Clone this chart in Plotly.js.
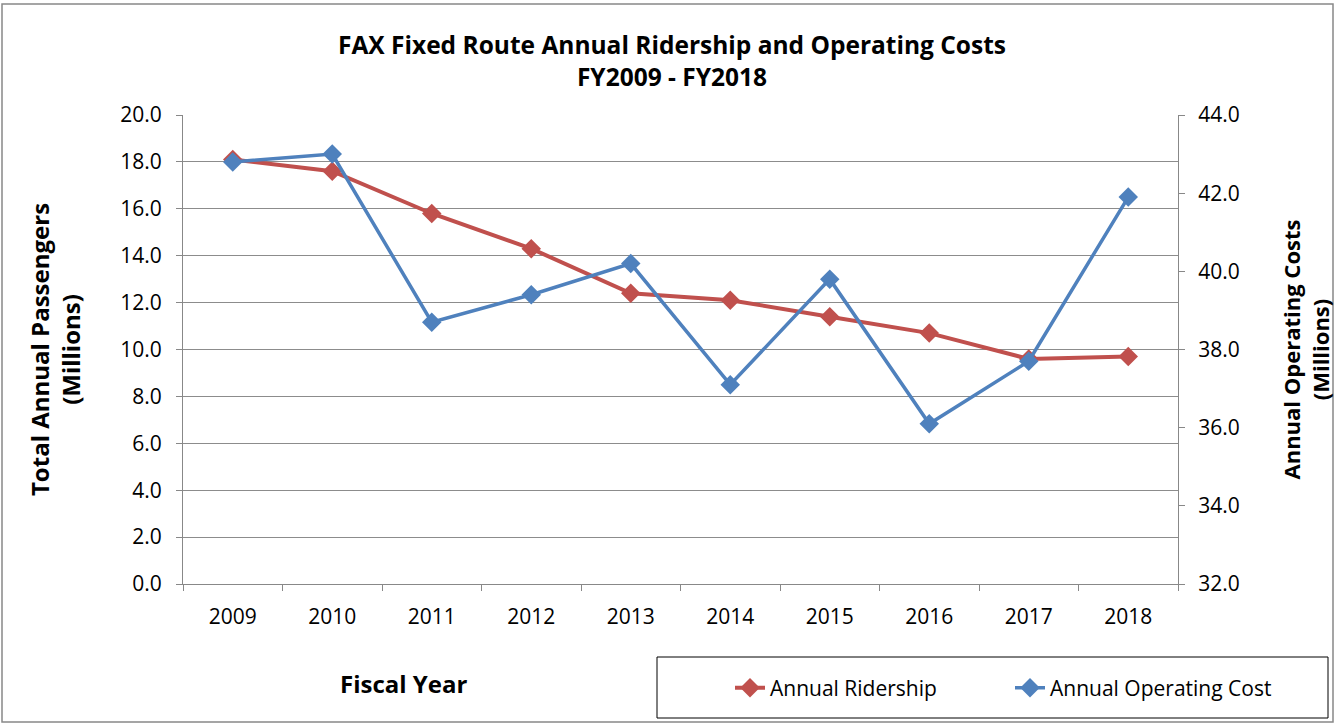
<!DOCTYPE html>
<html>
<head>
<meta charset="utf-8">
<script src="https://cdn.plot.ly/plotly-3.0.1.min.js"></script>
<style>
html,body{margin:0;padding:0;background:#fff;}
#chart{width:1335px;height:725px;}
</style>
</head>
<body>
<div id="chart"></div>
<script>
const years = ['2009','2010','2011','2012','2013','2014','2015','2016','2017','2018'];
const ridership = [18.1, 17.6, 15.8, 14.3, 12.4, 12.1, 11.4, 10.7, 9.6, 9.7];
const operatingCost = [42.8, 43.0, 38.7, 39.4, 40.2, 37.1, 39.8, 36.1, 37.7, 41.9];

const FONT = 'Open Sans, Noto Sans, sans-serif';
const W = 1335, H = 725;
const L = 183, R = 1178, T = 115, B = 584;
const px2x = p => (p - L) / (R - L);
const px2y = p => (B - p) / (B - T);

const traces = [
  {
    x: years, y: ridership, name: 'Annual Ridership', type: 'scatter', mode: 'lines+markers',
    line: {color: '#C0504D', width: 4},
    marker: {symbol: 'diamond', size: 15, color: '#C0504D'},
    yaxis: 'y'
  },
  {
    x: years, y: operatingCost, name: 'Annual Operating Cost', type: 'scatter', mode: 'lines+markers',
    line: {color: '#4F81BD', width: 3.5},
    marker: {symbol: 'diamond', size: 15, color: '#4F81BD'},
    yaxis: 'y2'
  }
];

const layout = {
  width: W, height: H,
  margin: {l: L, r: W - R, t: T, b: H - B},
  paper_bgcolor: '#fff', plot_bgcolor: '#fff',
  font: {family: FONT, color: '#000', size: 21},
  title: {
    text: '<b>FAX Fixed Route Annual Ridership and Operating Costs</b><br><b>FY2009 - FY2018</b>',
    font: {family: FONT, size: 24.5, color: '#000'},
    x: 672 / W, xanchor: 'center', xref: 'container',
    y: 1 - 54 / H, yanchor: 'middle', yref: 'container'
  },
  showlegend: true,
  legend: {
    orientation: 'h',
    xref: 'container', yref: 'container',
    x: 730 / W, xanchor: 'left',
    y: 1 - 688 / H, yanchor: 'middle',
    font: {family: FONT, size: 21, color: '#000'},
    bgcolor: 'rgba(0,0,0,0)',
    entrywidth: 235, entrywidthmode: 'pixels',
    traceorder: 'normal'
  },
  xaxis: {
    type: 'category',
    range: [-0.5, years.length - 0.5],
    tickson: 'boundaries',
    ticks: 'outside', ticklen: 6, tickcolor: '#888',
    ticklabelstandoff: 14,
    showline: true, linecolor: '#888', linewidth: 1,
    showgrid: false, zeroline: false,
    tickfont: {family: FONT, size: 21, color: '#000'},
    fixedrange: true
  },
  yaxis: {
    range: [0, 20], dtick: 2, tickformat: '.1f',
    ticks: 'outside', ticklen: 6, tickcolor: '#888',
    ticklabelstandoff: 10,
    showline: true, linecolor: '#888', linewidth: 1,
    showgrid: true, gridcolor: '#8c8c8c', gridwidth: 1,
    zeroline: false,
    tickfont: {family: FONT, size: 21, color: '#000'},
    title: {
      text: '<b>Total Annual Passengers</b><br><b>(Millions)</b>',
      font: {family: FONT, size: 24, color: '#000'},
      standoff: 32
    },
    automargin: false
  },
  yaxis2: {
    range: [32, 44], dtick: 2, tickformat: '.1f',
    overlaying: 'y', side: 'right',
    ticks: 'outside', ticklen: 6, tickcolor: '#888',
    ticklabelstandoff: 9,
    showline: true, linecolor: '#888', linewidth: 1,
    showgrid: false, zeroline: false,
    tickfont: {family: FONT, size: 21, color: '#000'},
    title: {
      text: '<b>Annual Operating Costs</b><br><b>(Millions)</b>',
      font: {family: FONT, size: 22, color: '#000'},
      standoff: 62
    },
    automargin: false
  },
  annotations: [
    {
      text: '<b>Fiscal Year</b>', showarrow: false,
      xref: 'paper', yref: 'paper',
      x: px2x(403), y: px2y(683), xanchor: 'center', yanchor: 'middle',
      font: {family: FONT, size: 24, color: '#000'}
    }
  ],
  shapes: [
    {
      type: 'rect', xref: 'paper', yref: 'paper',
      x0: px2x(657), x1: px2x(1328), y0: px2y(718), y1: px2y(657),
      line: {color: '#000', width: 1}, fillcolor: 'rgba(0,0,0,0)'
    },
    {
      type: 'rect', xref: 'paper', yref: 'paper',
      x0: px2x(2), x1: px2x(1333), y0: px2y(722), y1: px2y(4),
      line: {color: '#888', width: 1.5}, fillcolor: 'rgba(0,0,0,0)'
    }
  ]
};

Plotly.newPlot('chart', traces, layout, {displayModeBar: false, staticPlot: true});
</script>
</body>
</html>
